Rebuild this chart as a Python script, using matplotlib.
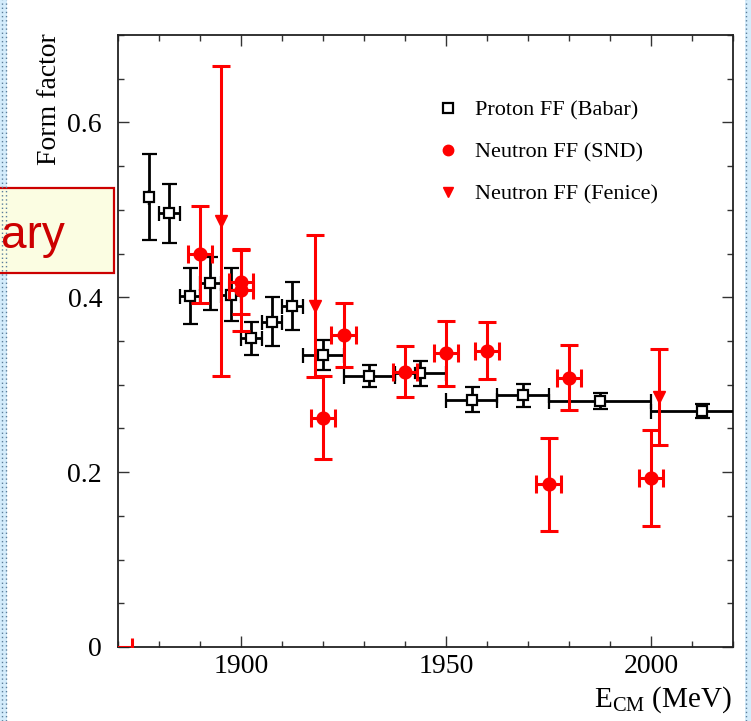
import matplotlib
matplotlib.use('Agg')
import matplotlib.pyplot as plt
from matplotlib.lines import Line2D
from matplotlib.patches import Rectangle
from matplotlib.ticker import MultipleLocator

plt.rcParams['font.family'] = ['Liberation Serif', 'DejaVu Serif']
plt.rcParams['mathtext.fontset'] = 'custom'
plt.rcParams['mathtext.rm'] = 'Liberation Serif'
plt.rcParams['mathtext.it'] = 'Liberation Serif:italic'

# Proton FF (Babar)
p_e = [1877.6, 1882.5, 1887.5, 1892.5, 1897.5, 1902.5, 1907.5, 1912.5,
       1920.0, 1931.25, 1943.75, 1956.25, 1968.75, 1987.5, 2012.5]
p_ff = [0.515, 0.496, 0.402, 0.416, 0.403, 0.353, 0.372, 0.390,
        0.334, 0.310, 0.313, 0.283, 0.288, 0.281, 0.270]
p_xerr = [0.0, 2.5, 2.5, 2.5, 2.5, 2.5, 2.5, 2.5,
          5.0, 6.25, 6.25, 6.25, 6.25, 12.5, 12.5]
p_yerr = [0.049, 0.034, 0.032, 0.030, 0.030, 0.019, 0.028, 0.027,
          0.017, 0.013, 0.014, 0.014, 0.013, 0.009, 0.008]

# Neutron FF (SND)
n_e = [1866.0, 1890.0, 1900.0, 1900.0, 1920.0, 1925.0, 1940.0, 1950.0,
       1960.0, 1975.0, 1980.0, 2000.0]
n_ff = [0.0, 0.449, 0.418, 0.408, 0.2625, 0.357, 0.315, 0.336,
        0.339, 0.186, 0.308, 0.193]
n_xerr = [7.5, 3, 3, 3, 3, 3, 3, 3, 3, 3, 3, 3]
n_yerr = [0.0, 0.055, 0.037, 0.046, 0.047, 0.037, 0.029, 0.037,
          0.033, 0.053, 0.037, 0.055]

# Neutron FF (Fenice)
f_e = [1895.0, 1918.0, 2002.0]
f_ff = [0.487, 0.390, 0.286]
f_yerr = [0.177, 0.081, 0.055]

W, H = 751, 721
fig = plt.figure(figsize=(W / 100, H / 100), dpi=100)
ax = fig.add_axes([118 / W, 1 - 647 / H, (733 - 118) / W, (647 - 35) / H])

ax.errorbar(p_e, p_ff, xerr=p_xerr, yerr=p_yerr, fmt='s', color='k',
            mfc='white', mec='k', ms=7, markeredgewidth=1.6, elinewidth=2.0,
            capsize=5.4, capthick=2.0, zorder=3)
ax.errorbar(n_e, n_ff, xerr=n_xerr, yerr=n_yerr, fmt='o', color='red',
            ms=9.2, elinewidth=2.2, capsize=6.5, capthick=2.2, zorder=4)
ax.errorbar(f_e, f_ff, yerr=f_yerr, fmt='v', color='red',
            ms=9.2, elinewidth=2.2, capsize=6.5, capthick=2.2, zorder=4)

ax.set_xlim(1870, 2020)
ax.set_ylim(0, 0.7)
ax.set_xticks([1900, 1950, 2000])
ax.set_xticklabels(['1900', '1950', '2000'])
ax.set_yticks([0, 0.2, 0.4, 0.6])
ax.set_yticklabels(['0', '0.2', '0.4', '0.6'])
ax.xaxis.set_minor_locator(MultipleLocator(10))
ax.yaxis.set_minor_locator(MultipleLocator(0.05))
ax.tick_params(which='both', direction='in', top=True, right=True, width=1, color='#333333')
ax.tick_params(which='major', length=8, labelsize=20)
ax.tick_params(which='minor', length=4.3)
ax.tick_params(axis='x', which='major', pad=5)
ax.tick_params(axis='y', which='major', pad=11.5)
for s in ax.spines.values():
    s.set_linewidth(1.3)
    s.set_color('#222222')

fig.text(50 / W, 1 - 33 / H, 'Form factor', rotation=90, ha='center', va='top', fontsize=20)
fig.text(732 / W, 1 - 707 / H, r'E$_{\mathrm{CM}}$ (MeV)', ha='right', va='baseline', fontsize=21)

handles = [
    Line2D([], [], ls='none', marker='s', mfc='white', mec='k', mew=1.6, ms=7),
    Line2D([], [], ls='none', marker='o', color='red', ms=7.5),
    Line2D([], [], ls='none', marker='v', color='red', ms=7.5),
]
labels = ['Proton FF (Babar)', 'Neutron FF (SND)', 'Neutron FF (Fenice)']
ax.legend(handles, labels, loc='upper left', bbox_to_anchor=(0.5187, 0.8938),
          frameon=False, fontsize=16, handlelength=1.0, handletextpad=0.7,
          labelspacing=0.97, borderpad=0, borderaxespad=0)

# side strips of the slide
fig.add_artist(Rectangle((0, 0), 7 / W, 1, transform=fig.transFigure,
                         facecolor='#d4ecfb', edgecolor='none'))
fig.add_artist(Rectangle((745 / W, 0), 6 / W, 1, transform=fig.transFigure,
                         facecolor='#d4ecfb', edgecolor='none'))
for xp in [1.5, 5.5, 745.5]:
    fig.add_artist(Line2D([xp / W, xp / W], [0, 1], transform=fig.transFigure,
                          color='#5a7d9a', lw=1, ls=(0, (1, 2))))

# visible end of the "Preliminary" box at the slide edge
fig.add_artist(Rectangle((-5 / W, 1 - 272.7 / H), 119 / W, 85 / H,
                         transform=fig.transFigure, facecolor='#fbfde2',
                         edgecolor='#cc0000', lw=1.6))
fig.text(1 / W, 1 - 248 / H, 'ary', ha='left', va='baseline',
         fontsize=33, color='#cc0000',
         family=['Liberation Sans Narrow', 'Liberation Sans'])

fig.savefig('out.png', dpi=100)
